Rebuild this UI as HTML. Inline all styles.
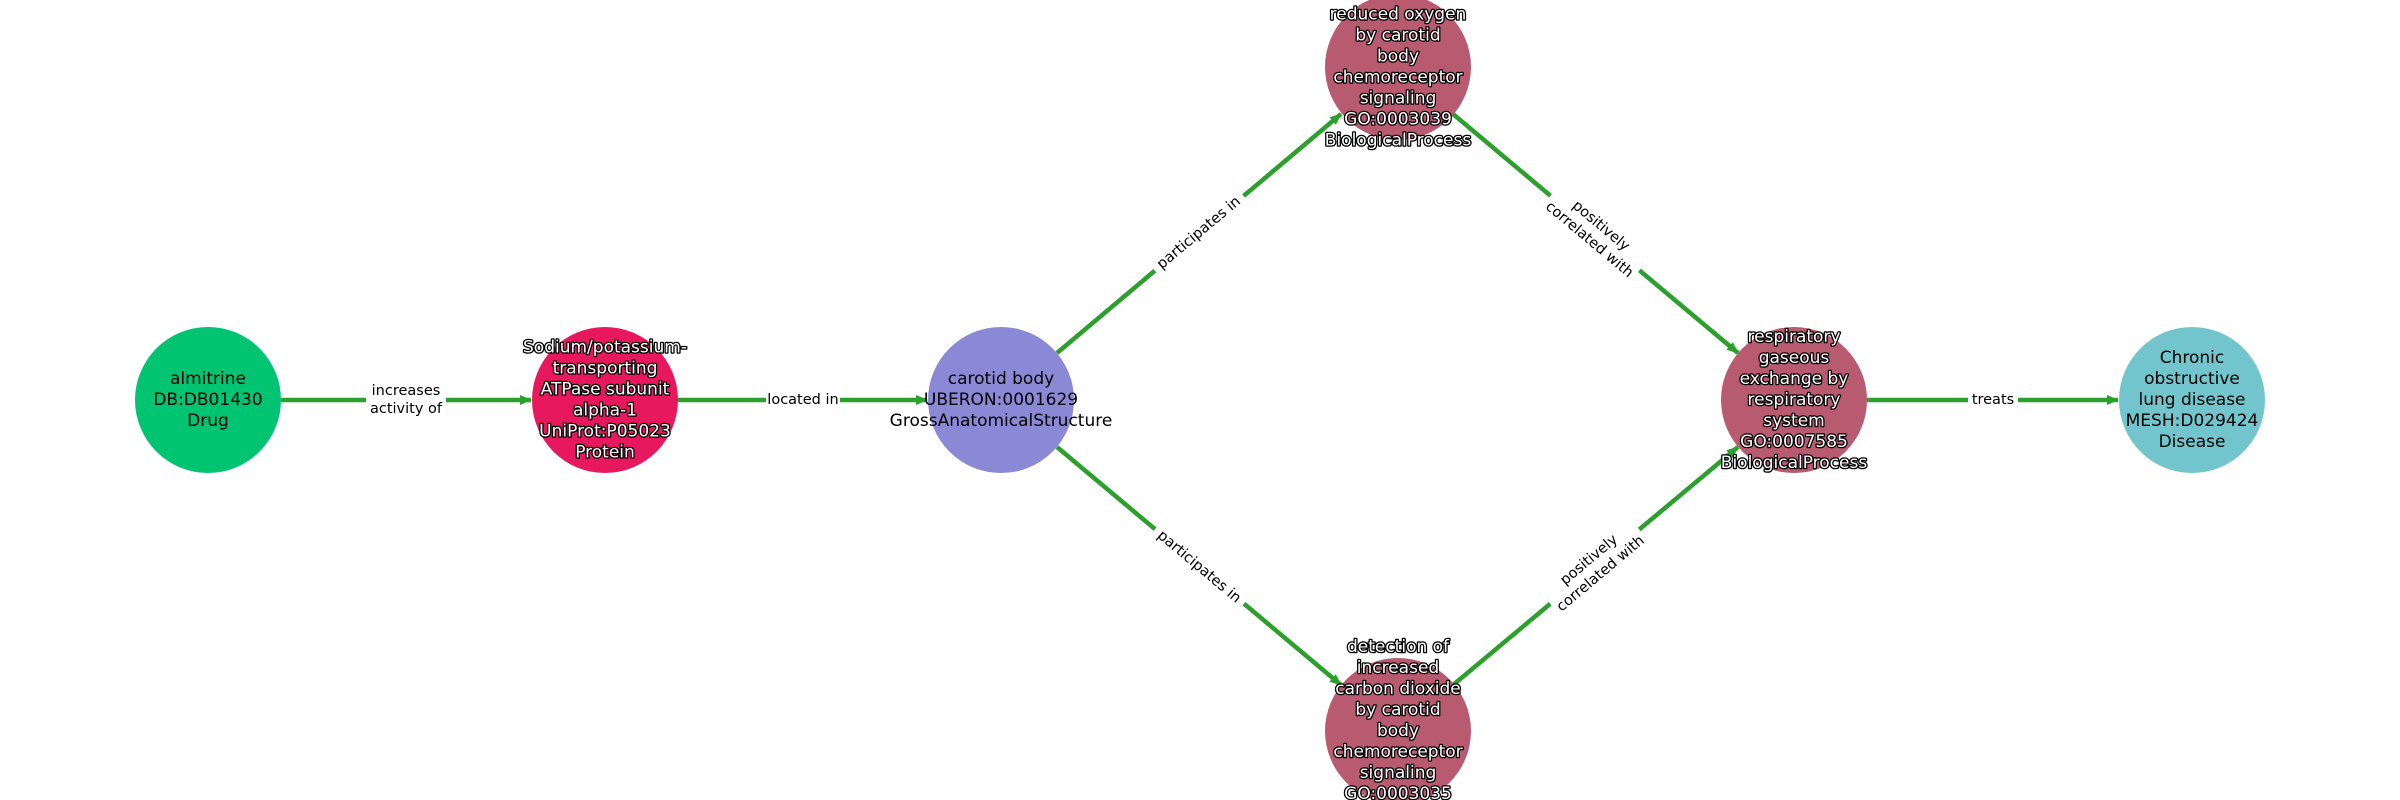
<!DOCTYPE html>
<html><head><meta charset="utf-8"><style>
html,body{margin:0;padding:0;background:#fff;}
svg{display:block;}
.nt{font-family:"DejaVu Sans","Liberation Sans",sans-serif;font-size:17px;text-anchor:middle;dominant-baseline:central;fill:#000;}
.ol text{fill:#fff;stroke:#000;stroke-width:2.6px;paint-order:stroke;stroke-linejoin:round;}
.el{font-family:"DejaVu Sans","Liberation Sans",sans-serif;font-size:14.5px;text-anchor:middle;dominant-baseline:central;fill:#000;}
</style></head><body>
<svg width="2400" height="800" viewBox="0 0 2400 800" xmlns="http://www.w3.org/2000/svg">
<defs>
<marker id="ah" markerWidth="12" markerHeight="10" refX="11" refY="5" orient="auto" markerUnits="userSpaceOnUse">
<path d="M0,0 L12,5 L0,10 z" fill="#2ca02c"/>
</marker>
</defs>
<g stroke="#2ca02c" stroke-width="4.5" fill="none">
<line x1="281" y1="400" x2="531" y2="400" marker-end="url(#ah)"/>
<line x1="678" y1="400" x2="927" y2="400" marker-end="url(#ah)"/>
<line x1="1057" y1="353" x2="1341" y2="114" marker-end="url(#ah)"/>
<line x1="1453" y1="114" x2="1738" y2="353" marker-end="url(#ah)"/>
<line x1="1057" y1="447" x2="1341" y2="685" marker-end="url(#ah)"/>
<line x1="1453" y1="685" x2="1738" y2="447" marker-end="url(#ah)"/>
<line x1="1867" y1="400" x2="2118" y2="400" marker-end="url(#ah)"/>
</g>
<g>
<rect x="366" y="380" width="80" height="40" fill="#fff"/>
<text class="el" x="406" y="391">increases</text>
<text class="el" x="406" y="409">activity of</text>
<rect x="766" y="388" width="74" height="24" fill="#fff"/>
<text class="el" x="803" y="400">located in</text>
<rect x="1968" y="388" width="50" height="24" fill="#fff"/>
<text class="el" x="1993" y="400">treats</text>
<g transform="translate(1199,233) rotate(-40)"><rect x="-58" y="-12" width="116" height="24" fill="#fff"/><text class="el" x="0" y="0">participates in</text></g>
<g transform="translate(1199,567) rotate(40)"><rect x="-58" y="-12" width="116" height="24" fill="#fff"/><text class="el" x="0" y="0">participates in</text></g>
<g transform="translate(1595,233) rotate(40)"><rect x="-58" y="-20" width="116" height="40" fill="#fff"/><text class="el" x="0" y="-9">positively</text><text class="el" x="0" y="9">correlated with</text></g>
<g transform="translate(1595,567) rotate(-40)"><rect x="-58" y="-20" width="116" height="40" fill="#fff"/><text class="el" x="0" y="-9">positively</text><text class="el" x="0" y="9">correlated with</text></g>
</g>
<circle cx="208" cy="400" r="73" fill="#00c472"/>
<circle cx="605" cy="400" r="73" fill="#e8185f"/>
<circle cx="1001" cy="400" r="73" fill="#8b88d6"/>
<circle cx="1398" cy="67" r="73" fill="#b85a70"/>
<circle cx="1794" cy="400" r="73" fill="#b85a70"/>
<circle cx="1398" cy="731" r="73" fill="#b85a70"/>
<circle cx="2192" cy="400" r="73" fill="#72c5cc"/>
<g class="nt">
<text x="208" y="379">almitrine</text><text x="208" y="400">DB:DB01430</text><text x="208" y="421">Drug</text>
<text x="1001" y="379">carotid body</text><text x="1001" y="400">UBERON:0001629</text><text x="1001" y="421">GrossAnatomicalStructure</text>
<text x="2192" y="358">Chronic</text><text x="2192" y="379">obstructive</text><text x="2192" y="400">lung disease</text><text x="2192" y="421">MESH:D029424</text><text x="2192" y="442">Disease</text>
</g>
<g class="nt ol">
<text x="605" y="347.5">Sodium/potassium-</text><text x="605" y="368.5">transporting</text><text x="605" y="389.5">ATPase subunit</text><text x="605" y="410.5">alpha-1</text><text x="605" y="431.5">UniProt:P05023</text><text x="605" y="452.5">Protein</text>
<text x="1398" y="-6.5">detection of</text><text x="1398" y="14.5">reduced oxygen</text><text x="1398" y="35.5">by carotid</text><text x="1398" y="56.5">body</text><text x="1398" y="77.5">chemoreceptor</text><text x="1398" y="98.5">signaling</text><text x="1398" y="119.5">GO:0003039</text><text x="1398" y="140.5">BiologicalProcess</text>
<text x="1794" y="337">respiratory</text><text x="1794" y="358">gaseous</text><text x="1794" y="379">exchange by</text><text x="1794" y="400">respiratory</text><text x="1794" y="421">system</text><text x="1794" y="442">GO:0007585</text><text x="1794" y="463">BiologicalProcess</text>
<text x="1398" y="647">detection of</text><text x="1398" y="668">increased</text><text x="1398" y="689">carbon dioxide</text><text x="1398" y="710">by carotid</text><text x="1398" y="731">body</text><text x="1398" y="752">chemoreceptor</text><text x="1398" y="773">signaling</text><text x="1398" y="794">GO:0003035</text><text x="1398" y="815">BiologicalProcess</text>
</g>
</svg>
</body></html>
